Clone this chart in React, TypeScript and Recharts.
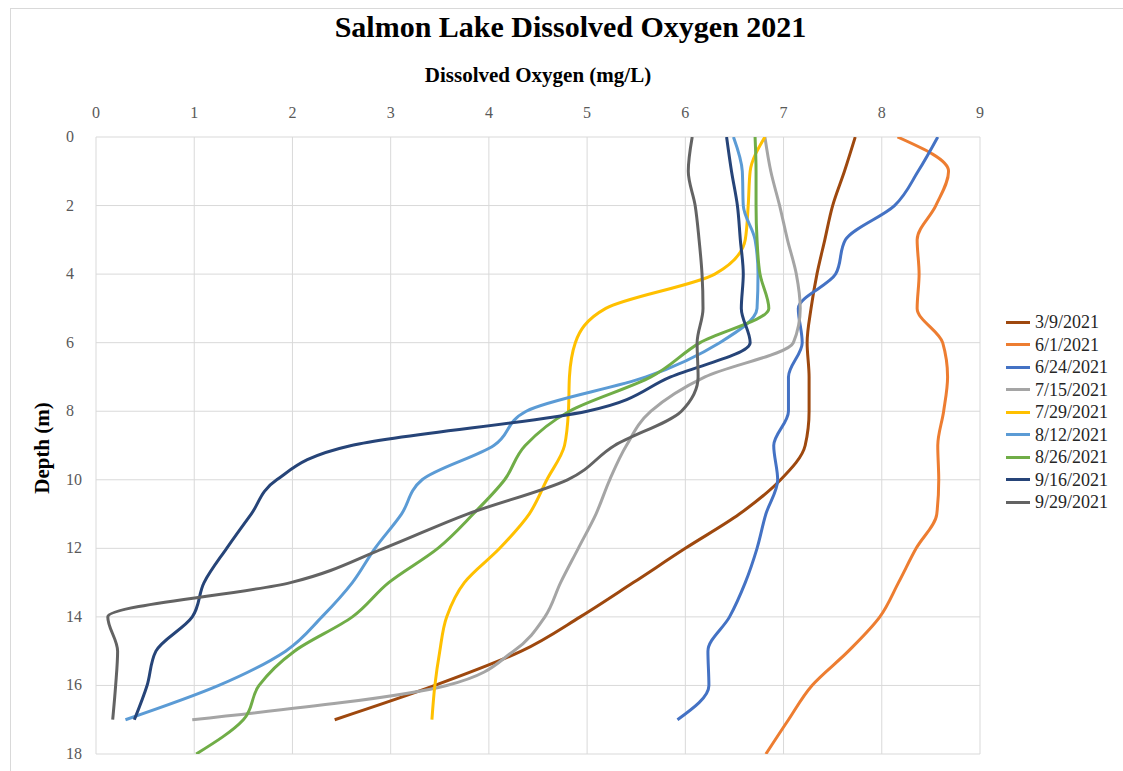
import React from 'react';
import { LineChart, Line, XAxis, YAxis, CartesianGrid } from 'recharts';

const depths = [0, 1, 2, 3, 4, 5, 6, 7, 8, 9, 10, 11, 12, 13, 14, 15, 16, 17, 18];
const xTicks = [0, 1, 2, 3, 4, 5, 6, 7, 8, 9];
const yTicks = [0, 2, 4, 6, 8, 10, 12, 14, 16, 18];

const s0309 = [7.73, 7.62, 7.5, 7.42, 7.34, 7.28, 7.24, 7.26, 7.26, 7.22, 6.97, 6.55, 6.0, 5.47, 4.93, 4.33, 3.45, 2.43];
const s0601 = [8.16, 8.68, 8.55, 8.36, 8.38, 8.36, 8.62, 8.67, 8.63, 8.57, 8.58, 8.56, 8.35, 8.17, 7.98, 7.66, 7.29, 7.05, 6.82];
const s0624 = [8.57, 8.37, 8.13, 7.63, 7.53, 7.15, 7.19, 7.05, 7.05, 6.9, 6.94, 6.82, 6.73, 6.61, 6.45, 6.23, 6.24, 5.92];
const s0715 = [6.81, 6.87, 6.96, 7.04, 7.13, 7.17, 7.1, 6.2, 5.65, 5.4, 5.23, 5.09, 4.91, 4.73, 4.57, 4.25, 3.57, 0.98];
const s0729 = [6.81, 6.66, 6.64, 6.61, 6.3, 5.19, 4.88, 4.82, 4.81, 4.77, 4.59, 4.41, 4.11, 3.75, 3.57, 3.5, 3.45, 3.42];
const s0812 = [6.49, 6.58, 6.59, 6.71, 6.74, 6.73, 6.35, 5.6, 4.38, 4.05, 3.32, 3.11, 2.84, 2.61, 2.3, 1.93, 1.25, 0.3];
const s0826 = [6.71, 6.72, 6.72, 6.73, 6.76, 6.85, 6.15, 5.65, 4.82, 4.37, 4.16, 3.84, 3.48, 2.98, 2.61, 2.02, 1.66, 1.5, 1.02];
const s0916 = [6.42, 6.47, 6.53, 6.56, 6.59, 6.57, 6.66, 5.85, 5.0, 2.6, 1.84, 1.58, 1.33, 1.1, 0.98, 0.61, 0.52, 0.39];
const s0929 = [6.07, 6.03, 6.1, 6.14, 6.17, 6.18, 6.12, 6.13, 5.96, 5.28, 4.8, 3.78, 2.93, 1.98, 0.12, 0.22, 0.2, 0.17];

const seriesNames = ['3/9/2021', '6/1/2021', '6/24/2021', '7/15/2021', '7/29/2021', '8/12/2021', '8/26/2021', '9/16/2021', '9/29/2021'];
const seriesValues = [s0309, s0601, s0624, s0715, s0729, s0812, s0826, s0916, s0929];
const seriesColors = ['#9E480E', '#ED7D31', '#4472C4', '#A5A5A5', '#FFC000', '#5B9BD5', '#70AD47', '#264478', '#636363'];

const data = depths.map((d, i) => {
  const row: Record<string, number | undefined> = { depth: d };
  seriesNames.forEach((n, k) => {
    row[n] = seriesValues[k][i];
  });
  return row;
});

const FONT = '"Liberation Serif", "Times New Roman", serif';

const XTick = (props: any) => {
  const { x, y, payload } = props;
  return (
    <text x={x} y={y - 19} textAnchor="middle" fill="#595959" fontSize={16} fontFamily={FONT}>
      {payload.value}
    </text>
  );
};

const YTick = (props: any) => {
  const { x, y, payload } = props;
  return (
    <text x={x - 30} y={y + 5} textAnchor="start" fill="#595959" fontSize={16} fontFamily={FONT}>
      {payload.value}
    </text>
  );
};

export default function App() {
  return (
    <div style={{ position: 'absolute', left: 0, top: 0, width: 1123, height: 771, background: '#fff', overflow: 'hidden', fontFamily: FONT }}>
      <div style={{ position: 'absolute', left: 10, top: 8, width: 1120, height: 770, borderTop: '1px solid #d9d9d9', borderLeft: '1px solid #d9d9d9' }} />
      <div style={{ position: 'absolute', left: 0, width: 1141, top: 10, textAlign: 'center', fontSize: 30, fontWeight: 'bold', color: '#000' }}>
        Salmon Lake Dissolved Oxygen 2021
      </div>
      <div style={{ position: 'absolute', left: 96, width: 884, top: 63, textAlign: 'center', fontSize: 21, fontWeight: 'bold', color: '#000' }}>
        Dissolved Oxygen (mg/L)
      </div>
      <div style={{ position: 'absolute', left: 42, top: 448, transform: 'translate(-50%, -50%) rotate(-90deg)', fontSize: 21, fontWeight: 'bold', whiteSpace: 'nowrap', color: '#000' }}>
        Depth (m)
      </div>
      <div style={{ position: 'absolute', left: 0, top: 0 }}>
        <LineChart
          width={1123}
          height={771}
          data={data}
          layout="vertical"
          margin={{ top: 97, left: 36, right: 143, bottom: 17 }}
        >
          <CartesianGrid stroke="#d9d9d9" strokeWidth={1} />
          <XAxis
            type="number"
            orientation="top"
            domain={[0, 9]}
            ticks={xTicks}
            interval={0}
            height={40}
            axisLine={false}
            tickLine={false}
            tickSize={0}
            tickMargin={0}
            tick={<XTick />}
            allowDataOverflow
          />
          <YAxis
            type="number"
            dataKey="depth"
            domain={[0, 18]}
            ticks={yTicks}
            interval={0}
            width={60}
            axisLine={false}
            tickLine={false}
            tickSize={0}
            tickMargin={0}
            tick={<YTick />}
            allowDataOverflow
          />
          {seriesNames.map((n, k) => (
            <Line
              key={n}
              dataKey={n}
              type="monotone"
              stroke={seriesColors[k]}
              strokeWidth={3}
              dot={false}
              activeDot={false}
              isAnimationActive={false}
            />
          ))}
        </LineChart>
      </div>
      <div style={{ position: 'absolute', left: 1006, top: 311 }}>
        {seriesNames.map((n, k) => (
          <div key={n} style={{ display: 'flex', alignItems: 'center', height: 22.5 }}>
            <div style={{ width: 24, height: 3, background: seriesColors[k], marginRight: 5 }} />
            <span style={{ fontSize: 18, color: '#262626', lineHeight: '22px' }}>{n}</span>
          </div>
        ))}
      </div>
    </div>
  );
}
